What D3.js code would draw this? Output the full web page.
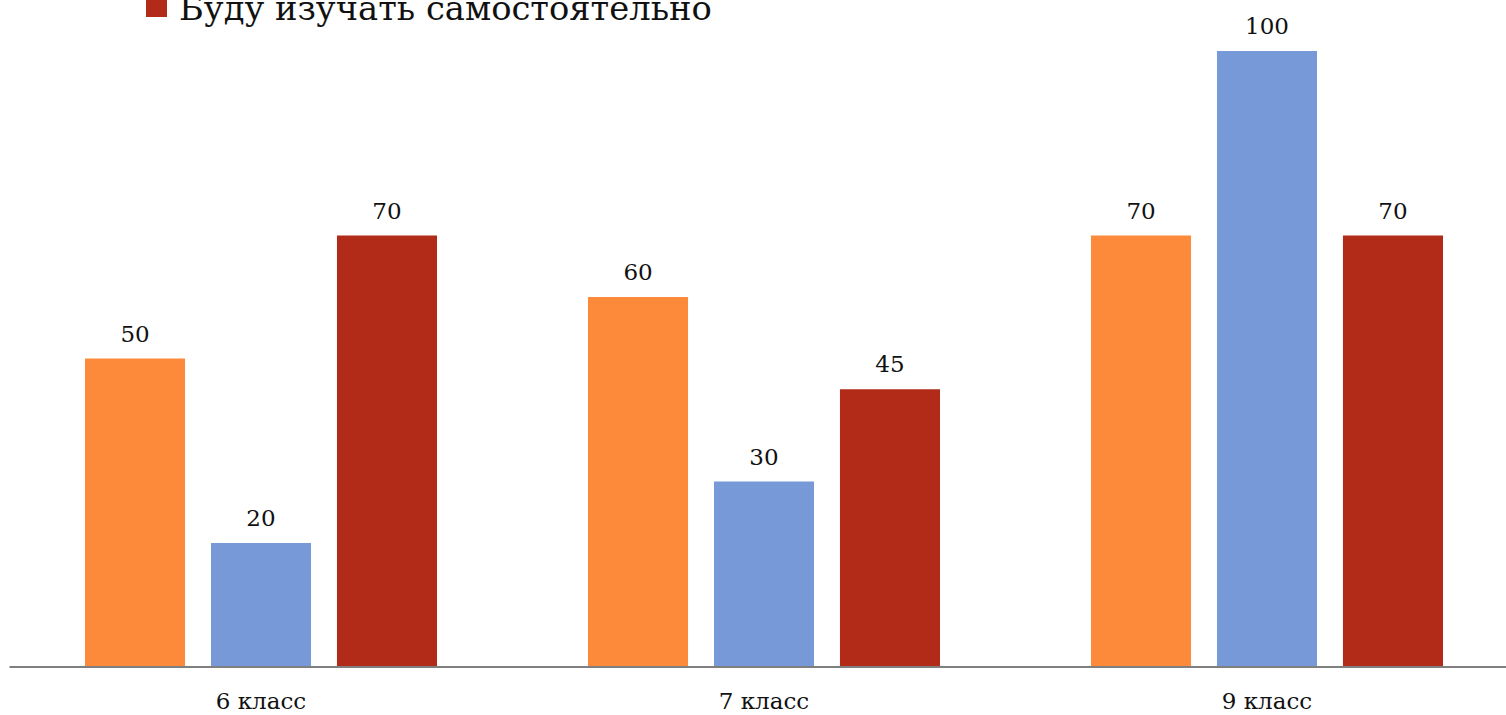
<!DOCTYPE html>
<html>
<head>
<meta charset="utf-8">
<script src="https://cdn.jsdelivr.net/npm/d3@7"></script>
<style>
  html, body { margin: 0; padding: 0; background: #fff; overflow: hidden; }
  svg { display: block; }
  text { font-family: "DejaVu Serif", "Liberation Serif", serif; fill: #111; }
</style>
</head>
<body>
<svg id="chart" width="1506" height="715"></svg>
<script>
// Grades surveyed
const categories = ["6 класс", "7 класс", "9 класс"];
// Three answer series per grade (orange, blue, red)
const seriesOrange = [50, 60, 70];
const seriesBlue = [20, 30, 100];
const seriesRed = [70, 45, 70];
const seriesColors = ["#FD8A3A", "#7799D7", "#B22B18"];
// Legend entry shown at the top
const legendLabels = ["Буду изучать самостоятельно"];
const legendColors = ["#B22B18"];

const series = [seriesOrange, seriesBlue, seriesRed];

const svg = d3.select("#chart");
const baseY = 666;

const x0 = d3.scaleBand()
  .domain(categories)
  .range([9.5, 1518.5])
  .paddingInner(0)
  .paddingOuter(0);

const innerPad = 75.5;
const x1 = d3.scaleBand()
  .domain(d3.range(series.length))
  .range([innerPad, x0.bandwidth() - innerPad])
  .paddingInner(0.206)
  .paddingOuter(0);

const y = d3.scaleLinear().domain([0, 100]).range([baseY, 51]);

const groups = svg.append("g").selectAll("g")
  .data(categories)
  .join("g")
  .attr("transform", d => `translate(${x0(d)},0)`);

groups.each(function(cat, ci) {
  const g = d3.select(this);
  series.forEach((s, si) => {
    const v = s[ci];
    g.append("rect")
      .attr("x", x1(si))
      .attr("y", y(v))
      .attr("width", x1.bandwidth())
      .attr("height", y(0) - y(v))
      .attr("fill", seriesColors[si]);
    g.append("text")
      .attr("x", x1(si) + x1.bandwidth() / 2)
      .attr("y", y(v) - 17)
      .attr("text-anchor", "middle")
      .attr("font-size", 23)
      .text(v);
  });
});

// Category axis
const axis = d3.axisBottom(x0).tickSize(0).tickPadding(0);
const axisG = svg.append("g").attr("transform", `translate(0,${baseY + 1})`).call(axis);
axisG.select(".domain").attr("stroke", "#7f7f7f").attr("stroke-width", 2)
  .attr("d", `M9.5,0H1506`);
axisG.selectAll(".tick text")
  .attr("y", 42)
  .attr("dy", 0)
  .attr("font-size", 23)
  .attr("font-family", "DejaVu Serif, serif")
  .attr("fill", "#111");

// Legend
const leg = svg.append("g");
legendLabels.forEach((lab, i) => {
  leg.append("rect")
    .attr("x", 146).attr("y", -4 - i * 40)
    .attr("width", 21).attr("height", 21)
    .attr("fill", legendColors[i]);
  const t = leg.append("text")
    .attr("x", 179).attr("y", 20 - i * 40)
    .attr("font-size", 33)
    .text(lab);
  const len = t.node().getComputedTextLength();
  t.attr("font-size", 33 * 533 / len);
});
</script>
</body>
</html>
